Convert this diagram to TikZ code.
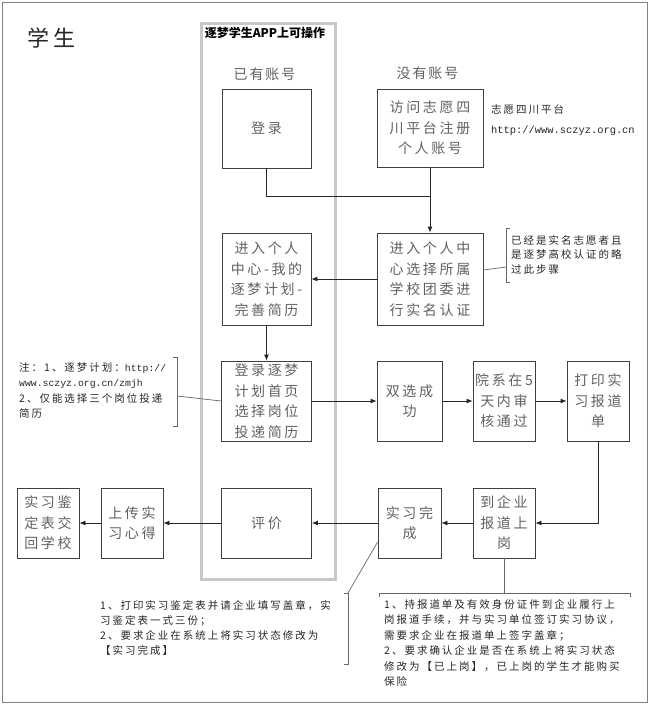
\documentclass[tikz,border=0pt]{standalone}
\usepackage{fontspec}
\setmainfont{Noto Sans CJK SC}
\newfontfamily\boxf[LetterSpace=19]{Noto Sans CJK SC}
\newfontfamily\notef[LetterSpace=19]{Noto Sans CJK SC}
\newfontfamily\bigf[LetterSpace=14]{Noto Sans CJK SC}
\newfontfamily\monof{Liberation Mono}
\usetikzlibrary{arrows.meta}
\definecolor{framegray}{HTML}{C8C8C8}
\begin{document}
\begin{tikzpicture}[x=1pt,y=-1pt,
  box/.style={draw=black!75, line width=0.8pt, inner sep=0pt, align=center, text=black!62,
    font=\boxf\fontsize{14}{20.5}\selectfont},
  conn/.style={draw=black!85, line width=0.8pt},
  arr/.style={conn, -{Latex[length=6pt,width=5pt]}},
  note/.style={inner sep=0pt, anchor=north west, align=left, text=black!85,
    font=\notef\fontsize{10.5}{15}\selectfont},
  brk/.style={draw=black!60, line width=0.7pt},
  head/.style={inner sep=0pt, text=black!62, font=\bigf\fontsize{14}{16}\selectfont}]
\useasboundingbox (0,0) rectangle (650,707);
\draw[black!50, line width=1pt] (2.5,2.5) rectangle (647.5,702.5);
\draw[framegray, line width=3pt] (201.5,23) rectangle (335,579);

% titles
\node[inner sep=0pt, text=black!85, font=\bigf\fontsize{22}{24}\selectfont] (title) at (51.5,38) {学生};
\node[inner sep=0pt, font=\bfseries\fontsize{12}{14}\selectfont] (app) at (265,33) {逐梦学生APP上可操作};
\node[head] (has) at (264.5,74) {已有账号};
\node[head] (no) at (427.5,73) {没有账号};

% boxes
\node[box, minimum width=89pt, minimum height=79pt] (login) at (266.5,128.5) {登录};
\node[box, minimum width=106pt, minimum height=78pt] (visit) at (430,128) {访问志愿四\\川平台注册\\个人账号};
\node[box, minimum width=89pt, minimum height=92pt] (resume) at (266.5,279) {进入个人\\中心-我的\\逐梦计划-\\完善简历};
\node[box, minimum width=106pt, minimum height=92pt] (auth) at (430,279) {进入个人中\\心选择所属\\学校团委进\\行实名认证};
\node[box, minimum width=90pt, minimum height=80pt] (deliver) at (266.5,401) {登录逐梦\\计划首页\\选择岗位\\投递简历};
\node[box, minimum width=65pt, minimum height=80pt] (shuang) at (409.5,401) {双选成\\功};
\node[box, minimum width=62pt, minimum height=80pt] (yuan) at (504,401) {院系在5\\天内审\\核通过};
\node[box, minimum width=62pt, minimum height=80pt] (print) at (598,401) {打印实\\习报道\\单};
\node[box, minimum width=62pt, minimum height=70pt] (dao) at (504,523) {到企业\\报道上\\岗};
\node[box, minimum width=63pt, minimum height=70pt] (wancheng) at (409.5,523) {实习完\\成};
\node[box, minimum width=90pt, minimum height=70pt] (pingjia) at (266.5,523) {评价};
\node[box, minimum width=62pt, minimum height=70pt] (upload) at (132,523) {上传实\\习心得};
\node[box, minimum width=62pt, minimum height=70pt] (jianding) at (48,523) {实习鉴\\定表交\\回学校};

% notes
\node[note, font=\notef\fontsize{10.5}{20}\selectfont] (n1) at (491,104) {志愿四川平台\\{\monof\fontsize{10.4}{20}\selectfont http://www.sczyz.org.cn}};
\node[note, font=\notef\fontsize{10.5}{14.5}\selectfont] (n2) at (511,235) {已经是实名志愿者且\\是逐梦高校认证的略\\过此步骤};
\node[note, font=\notef\fontsize{10.5}{15.5}\selectfont] (n3) at (19,362) {注：1、逐梦计划：{\monof\fontsize{9.8}{15.5}\selectfont http://}\\{\monof\fontsize{9.8}{15.5}\selectfont www.sczyz.org.cn/zmjh}\\2、仅能选择三个岗位投递\\简历};
\node[note] (n4) at (100,600) {1、打印实习鉴定表并请企业填写盖章，实\\习鉴定表一式三份；\\2、要求企业在系统上将实习状态修改为\\【实习完成】};
\node[note, font=\notef\fontsize{10.5}{15.5}\selectfont] (n5) at (384,599) {1、持报道单及有效身份证件到企业履行上\\岗报道手续，并与实习单位签订实习协议，\\需要求企业在报道单上签字盖章；\\2、要求确认企业是否在系统上将实习状态\\修改为【已上岗】，已上岗的学生才能购买\\保险};

% brackets
\coordinate (b1) at (506,267);
\coordinate (b2) at (177,396);
\coordinate (b3) at (348,593);
\coordinate (b4) at (504,593);
\draw[brk] (510,228) -- (506,228) -- (506,282) -- (510,282);
\draw[brk] (173,357) -- (177,357) -- (177,426) -- (173,426);
\draw[brk] (344,593) -- (348,593) -- (348,664) -- (344,664);
\draw[brk] (379,597) -- (379,593) -- (630,593) -- (630,597);

% connectors
\coordinate (j) at (430,196);
\draw[conn] (login.south) |- (j);
\draw[conn] (visit.south) -- (j);
\draw[arr] (j) -- (auth.north);
\draw[arr] (auth.west) -- (resume.east);
\draw[arr] (resume.south) -- (deliver.north);
\draw[arr] (deliver.east) -- (shuang.west);
\draw[arr] (shuang.east) -- (yuan.west);
\draw[arr] (yuan.east) -- (print.west);
\draw[arr] (print.south) |- (dao.east);
\draw[arr] (dao.west) -- (wancheng.east);
\draw[arr] (wancheng.west) -- (pingjia.east);
\draw[arr] (pingjia.west) -- (upload.east);
\draw[arr] (upload.west) -- (jianding.east);
\draw[brk] ([yshift=9pt]auth.east) -- (b1);
\draw[brk] (deliver.west) -- (b2);
\draw[brk] ([yshift=-19pt]wancheng.west) -- (b3);
\draw[brk] (dao.south) -- (b4);
\end{tikzpicture}
\end{document}
